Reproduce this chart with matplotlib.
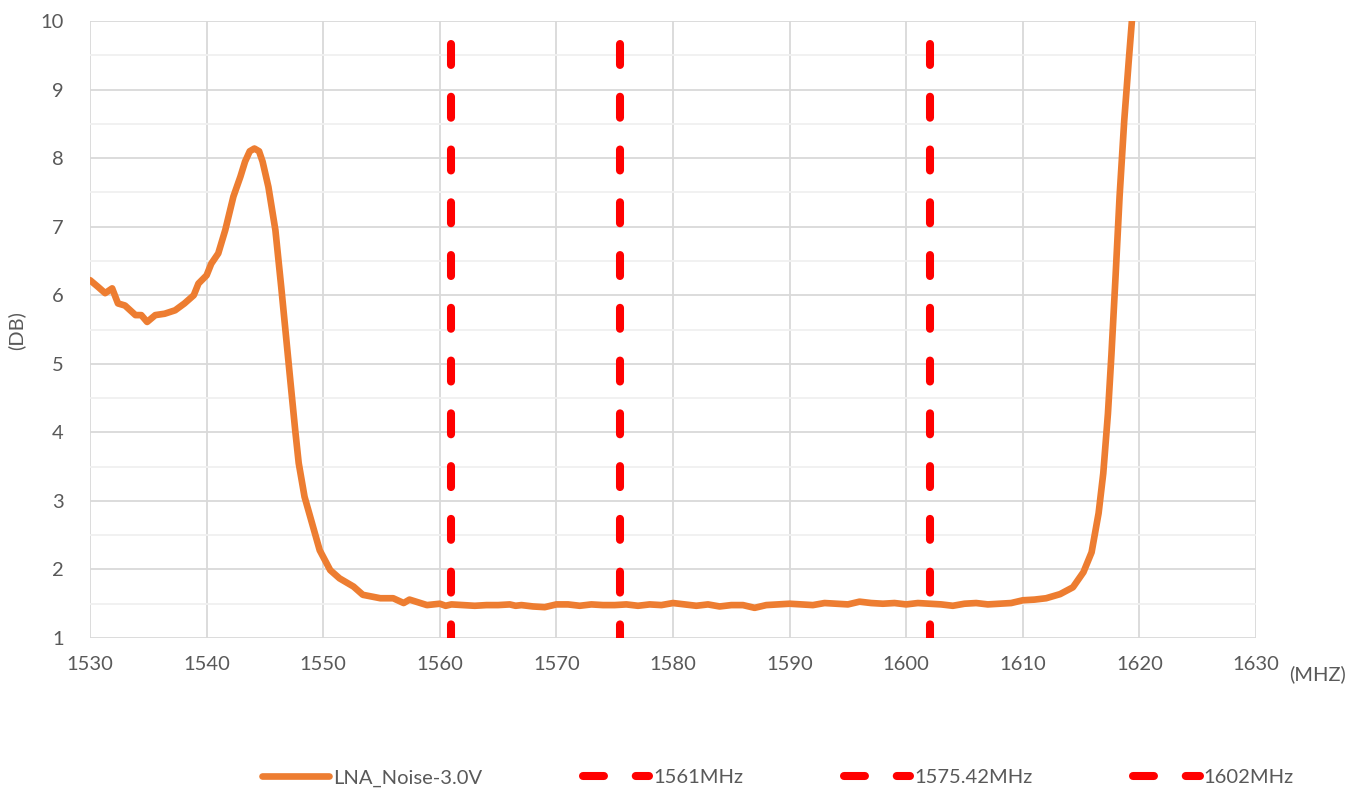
import matplotlib
matplotlib.use("Agg")
import matplotlib.pyplot as plt
from matplotlib.ticker import MultipleLocator

plt.rcParams['font.family'] = ['Lato', 'DejaVu Sans']

# ---- data ----
freq_mhz = [1530.0, 1530.7, 1531.3, 1531.9, 1532.4, 1533.0, 1533.9, 1534.4, 1534.9, 1535.6,
            1536.4, 1537.3, 1538.1, 1538.9, 1539.3, 1540.0, 1540.4, 1541.0, 1541.6, 1542.3,
            1542.9, 1543.3, 1543.7, 1544.1, 1544.5, 1544.8, 1545.3, 1545.9, 1546.4, 1546.8,
            1547.2, 1547.6, 1547.9, 1548.4, 1549.2, 1549.7, 1550.6, 1551.4, 1552.6, 1553.4,
            1554.9, 1556.0, 1556.9, 1557.4, 1558.9, 1560.0, 1560.5, 1561.0, 1562.0, 1563.0,
            1564.0, 1565.0, 1566.0, 1566.5, 1567.0, 1568.0, 1569.0, 1570.0, 1571.0, 1572.0,
            1573.0, 1574.0, 1575.0, 1576.0, 1577.0, 1578.0, 1579.0, 1580.0, 1581.0, 1582.0,
            1583.0, 1584.0, 1585.0, 1586.0, 1587.0, 1588.0, 1589.0, 1590.0, 1591.0, 1592.0,
            1593.0, 1594.0, 1595.0, 1596.0, 1597.0, 1598.0, 1599.0, 1600.0, 1601.0, 1602.0,
            1603.0, 1604.0, 1605.0, 1606.0, 1607.0, 1608.0, 1609.0, 1610.0, 1611.0, 1612.0,
            1613.2, 1614.3, 1615.2, 1615.9, 1616.5, 1616.9, 1617.3, 1617.6, 1617.96, 1618.3,
            1618.7, 1619.1, 1619.45]
noise_db = [6.22, 6.12, 6.03, 6.10, 5.88, 5.85, 5.71, 5.71, 5.61, 5.71,
            5.73, 5.78, 5.88, 6.00, 6.17, 6.29, 6.46, 6.61, 6.95, 7.44,
            7.73, 7.95, 8.10, 8.14, 8.10, 7.95, 7.58, 6.95, 6.12, 5.42,
            4.72, 4.03, 3.55, 3.06, 2.58, 2.28, 1.99, 1.87, 1.75, 1.63,
            1.58, 1.58, 1.51, 1.56, 1.48, 1.50, 1.47, 1.49, 1.48, 1.47,
            1.48, 1.48, 1.49, 1.47, 1.48, 1.46, 1.45, 1.49, 1.49, 1.47,
            1.49, 1.48, 1.48, 1.49, 1.47, 1.49, 1.48, 1.51, 1.49, 1.47,
            1.49, 1.46, 1.48, 1.48, 1.44, 1.48, 1.49, 1.50, 1.49, 1.48,
            1.51, 1.50, 1.49, 1.53, 1.51, 1.50, 1.51, 1.49, 1.51, 1.50,
            1.49, 1.47, 1.50, 1.51, 1.49, 1.50, 1.51, 1.55, 1.56, 1.58,
            1.64, 1.74, 1.96, 2.25, 2.82, 3.40, 4.27, 5.13, 6.29, 7.44,
            8.55, 9.45, 10.2]

marker_freqs = [1561, 1575.42, 1602]
marker_labels = ['1561MHz', '1575.42MHz', '1602MHz']
marker_top = 9.67
marker_bottom = 1.0

series_label = 'LNA_Noise-3.0V'
x_ticks = [1530, 1540, 1550, 1560, 1570, 1580, 1590, 1600, 1610, 1620, 1630]
y_ticks = [1, 2, 3, 4, 5, 6, 7, 8, 9, 10]

# ---- style ----
ORANGE = '#ED7D31'
RED = '#FF0000'
TXT = '#595959'
FS = 14.5

fig = plt.figure(figsize=(13.63, 7.93), dpi=100)
ax = fig.add_axes([90 / 1363, 1 - 638 / 793, (1256 - 90) / 1363, (638 - 21) / 793])

ax.plot(freq_mhz, noise_db, color=ORANGE, lw=4.8, solid_joinstyle='round',
        solid_capstyle='round', label=series_label, zorder=3)
for f, lab in zip(marker_freqs, marker_labels):
    ax.plot([f, f], [marker_top, marker_bottom], color=RED, lw=5.8,
            linestyle=(0, (2.6, 3.95)), dash_capstyle='round', label=lab, zorder=4)

ax.set_xlim(1530, 1630)
ax.set_ylim(1, 10)
ax.set_xticks(x_ticks)
ax.set_yticks(y_ticks)
ax.yaxis.set_minor_locator(MultipleLocator(0.5))
ax.grid(True, which='major', color='#d9d9d9', lw=1.3)
ax.grid(True, which='minor', axis='y', color='#f0f0f0', lw=1.3)
ax.set_axisbelow(True)
for s in ax.spines.values():
    s.set_visible(False)
ax.tick_params(which='both', length=0, labelsize=FS, colors=TXT)
ax.tick_params(axis='x', pad=13)
ax.tick_params(axis='y', pad=19)

fig.text(1318 / 1363, 1 - 674 / 793, '(MHZ)', ha='center', va='center', fontsize=FS, color=TXT)
fig.text(16 / 1363, 1 - 331 / 793, '(DB)', ha='center', va='center', rotation=90,
         fontsize=FS, color=TXT)

leg = fig.legend(loc='center', bbox_to_anchor=(778 / 1363, 1 - 778 / 793), ncol=4,
                 frameon=False, fontsize=FS, handlelength=3.3, handletextpad=0.2,
                 columnspacing=5.0, labelcolor=TXT)

fig.savefig('out.png', dpi=100, facecolor='white')
